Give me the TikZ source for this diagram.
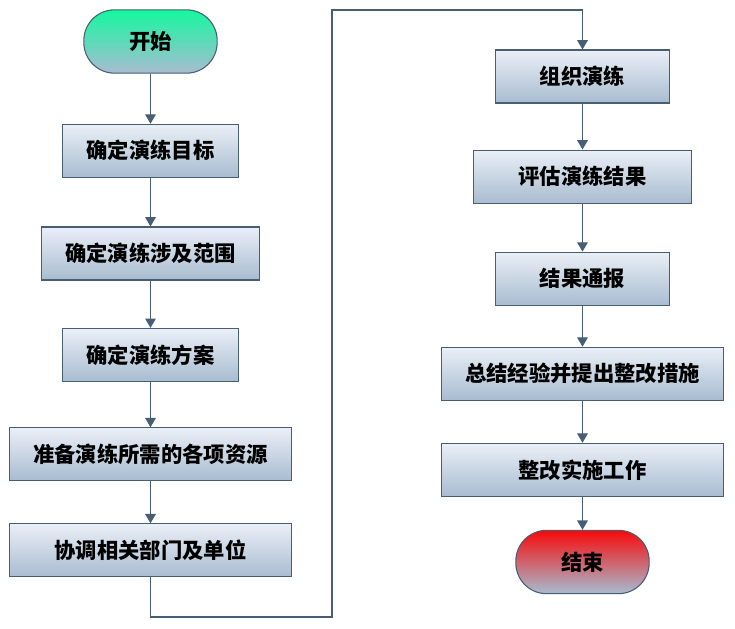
\documentclass[tikz,border=0pt]{standalone}
\usepackage{fontspec}
\newfontfamily\cjk{Noto Sans CJK SC}
\usetikzlibrary{positioning,arrows.meta}
\definecolor{FlowEdge}{RGB}{72,94,116}
\definecolor{FlowTop}{RGB}{234,239,247}
\definecolor{FlowBottom}{RGB}{168,188,208}
\definecolor{StartTop}{RGB}{20,248,160}
\definecolor{EndTop}{RGB}{246,10,10}

\begin{document}
\begin{tikzpicture}[
x=0.75pt,y=-0.75pt,
box/.style={rectangle,draw=FlowEdge,thick,top color=FlowTop,bottom color=FlowBottom,
minimum height=39.75pt,inner sep=0pt,align=center,font=\cjk\bfseries\fontsize{16pt}{19pt}\selectfont},
term/.style={box,rounded corners=23pt,minimum width=100pt,minimum height=47.5pt},
arrow/.style={-{Triangle[length=7pt,width=8pt]},thick,draw=FlowEdge}
]
\useasboundingbox (0,0) rectangle (735,628);
% left column
\node[term,top color=StartTop] (start) at (150.5,41.5) {开始};
\node[box,minimum width=132pt,below=37.5pt of start] (goal) {确定演练目标};
\node[box,minimum width=164pt,below=36.5pt of goal] (scope) {确定演练涉及范围};
\node[box,minimum width=132pt,below=35.5pt of scope] (plan) {确定演练方案};
\node[box,minimum width=212pt,below=34pt of plan] (res) {准备演练所需的各项资源};
\node[box,minimum width=212pt,below=31.5pt of res] (coord) {协调相关部门及单位};
% right column
\node[box,minimum width=131pt] (run) at (582.5,76.5) {组织演练};
\node[box,minimum width=163pt,below=34.5pt of run] (eval) {评估演练结果};
\node[box,minimum width=131pt,below=36pt of eval] (report) {结果通报};
\node[box,minimum width=211pt,below=30.75pt of report] (sum) {总结经验并提出整改措施};
\node[box,minimum width=211pt,below=31.5pt of sum] (fix) {整改实施工作};
\node[term,top color=EndTop,below=24.75pt of fix] (finish) {结束};
\draw[arrow] (start)--(goal); \draw[arrow] (goal)--(scope); \draw[arrow] (scope)--(plan);
\draw[arrow] (plan)--(res); \draw[arrow] (res)--(coord);
\coordinate (lowturn) at (332,617);
\coordinate (highturn) at (332,10);
\draw[arrow] (coord.south) |- (lowturn) -- (highturn) -| (run.north);
\draw[arrow] (run)--(eval); \draw[arrow] (eval)--(report); \draw[arrow] (report)--(sum);
\draw[arrow] (sum)--(fix); \draw[arrow] (fix)--(finish);
\end{tikzpicture}
\end{document}
